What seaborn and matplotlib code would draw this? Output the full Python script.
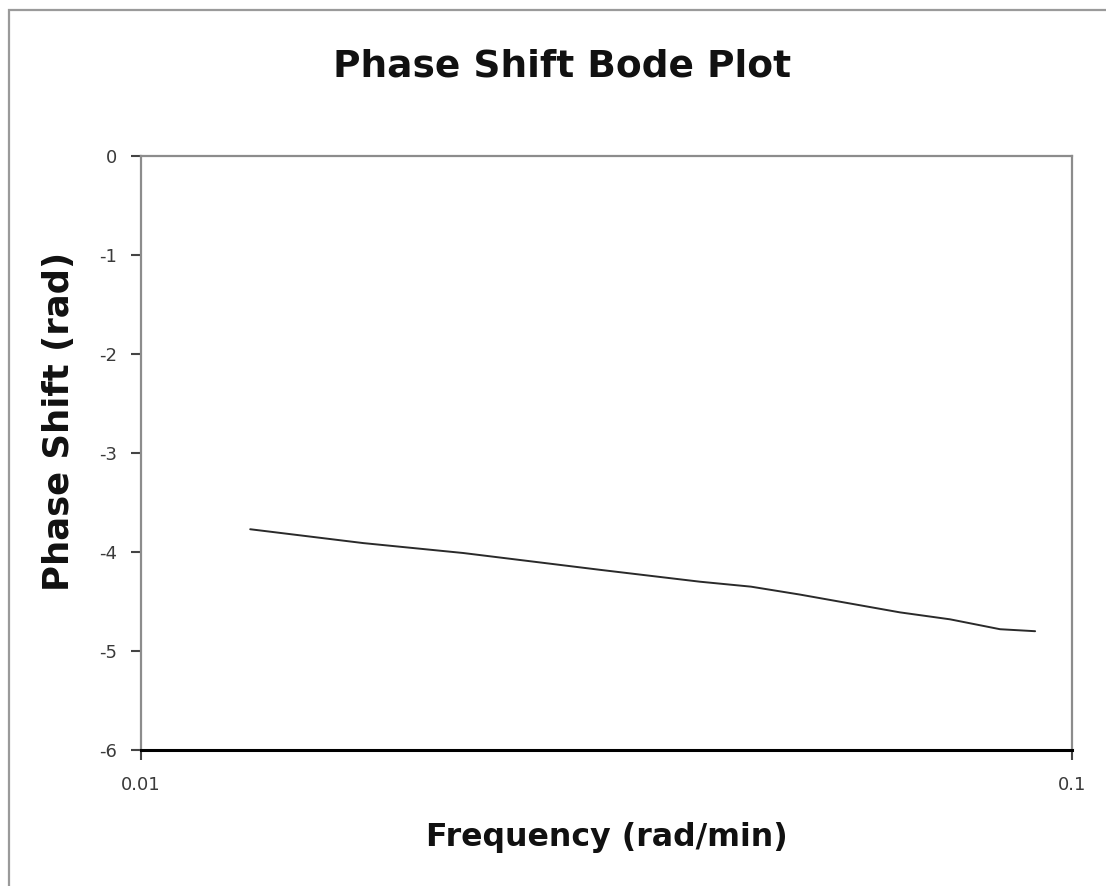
import matplotlib
matplotlib.use("Agg")
import matplotlib.pyplot as plt
import seaborn as sns
import pandas as pd
from matplotlib.patches import Rectangle

# Data
frequency = [0.01310, 0.01733, 0.02218, 0.03112, 0.03984, 0.04520, 0.05102,
             0.06536, 0.07396, 0.08369, 0.09127]
phase_shift = [-3.77, -3.91, -4.01, -4.18, -4.30, -4.35, -4.43,
               -4.61, -4.68, -4.78, -4.80]
y_ticks = [0, -1, -2, -3, -4, -5, -6]
x_ticks = [0.01, 0.1]
x_tick_labels = ["0.01", "0.1"]

df = pd.DataFrame({"Frequency": frequency, "Phase": phase_shift})

sns.set_style("white")
plt.rcParams['font.family'] = ['DejaVu Sans']

fig = plt.figure(figsize=(11.06, 8.86), dpi=100)
ax = fig.add_axes([0.1275, 0.1535, 0.8418, 0.6704])

sns.lineplot(data=df, x="Frequency", y="Phase", ax=ax, color="#2a2a2a",
             linewidth=1.4, sort=False)

ax.set_xscale("log")
ax.set_xlim(0.01, 0.1)
ax.set_ylim(-6, 0)
ax.set_xticks(x_ticks)
ax.set_xticklabels(x_tick_labels)
ax.xaxis.set_minor_locator(matplotlib.ticker.NullLocator())
ax.set_yticks(y_ticks)
ax.set_yticklabels([str(v) for v in y_ticks])

ax.tick_params(axis='both', which='major', labelsize=13, labelcolor="#3a3a3a",
               direction='out', length=7, width=1.5, left=True, bottom=True,
               color="#444444")
ax.tick_params(axis='x', pad=12)
ax.tick_params(axis='y', pad=10)

for side in ["top", "right", "left"]:
    ax.spines[side].set_color("#8c8c8c")
    ax.spines[side].set_linewidth(1.6)
ax.spines["bottom"].set_color("#000000")
ax.spines["bottom"].set_linewidth(2.2)

ax.set_xlabel("")
ax.set_ylabel("")

fig.text(0.5488, 0.0553, "Frequency (rad/min)", fontsize=22.8, fontweight="bold",
         ha="center", va="center", color="#111111")
fig.text(0.0533, 0.5248, "Phase Shift (rad)", fontsize=25.5, fontweight="bold",
         ha="center", va="center", rotation=90, color="#111111")
fig.text(0.5081, 0.9255, "Phase Shift Bode Plot", fontsize=27, fontweight="bold",
         ha="center", va="center", color="#111111")

# outer chart-area border
fig.patches.append(Rectangle((0.008, -0.1), 1.2, 1.0887, transform=fig.transFigure,
                             fill=False, edgecolor="#9a9a9a", linewidth=1.6))

fig.savefig("out.png", dpi=100)
